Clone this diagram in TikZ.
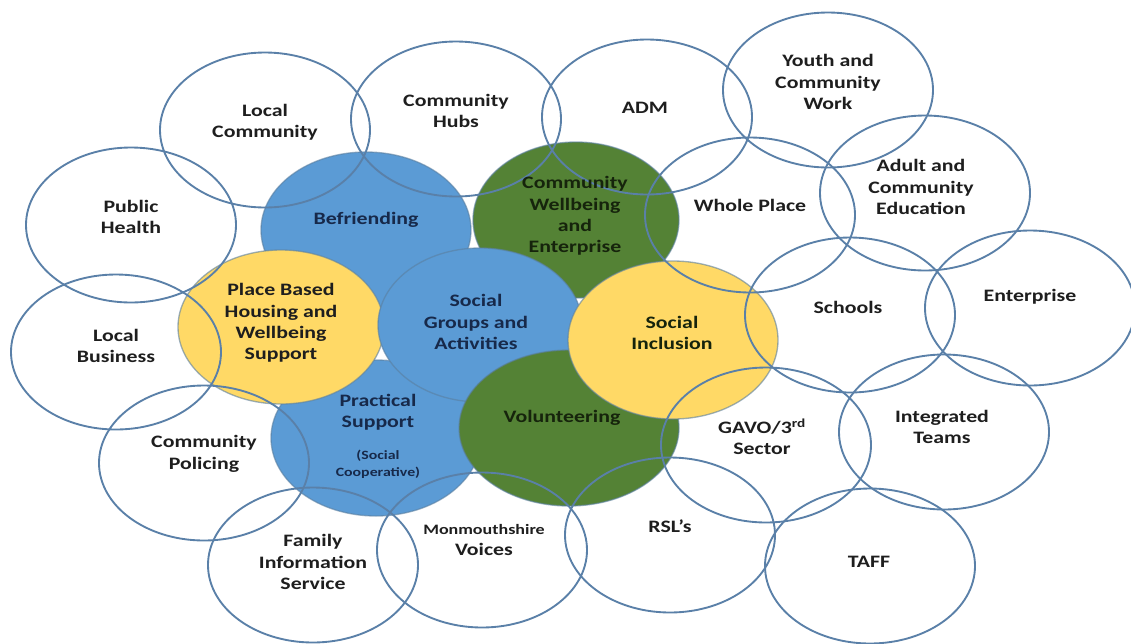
\documentclass[tikz,border=0pt]{standalone}
\usepackage{fontspec}
\setmainfont[FakeStretch=1.25]{Carlito}
\usetikzlibrary{shapes.geometric}

\definecolor{ringcol}{HTML}{5A80A8}
\definecolor{bluefill}{HTML}{5B9BD5}
\definecolor{greenfill}{HTML}{548235}
\definecolor{yellowfill}{HTML}{FFD966}
\definecolor{discedge}{HTML}{5A7FA0}
\definecolor{txtcol}{HTML}{1E1E1E}
\definecolor{navytxt}{HTML}{17294A}
\definecolor{greentxt}{HTML}{16240C}

\tikzset{
  ring/.style={ellipse, draw=ringcol, line width=1.4pt, inner sep=0pt, outer sep=0pt,
    minimum width=157.5pt, minimum height=116.25pt},
  disc/.style={ellipse, draw=discedge, draw opacity=0.6, line width=1pt, inner sep=0pt, outer sep=0pt},
  lbl/.style={align=center, inner sep=0pt, text=txtcol,
    font=\bfseries\fontsize{13.1}{16.1}\selectfont},
}

\begin{document}
\begin{tikzpicture}[x=0.75pt, y=-0.75pt]
    \fill[white] (0,0) rectangle (1131,643);
    \useasboundingbox (0,0) rectangle (1131,643);
    % filled circles
    \node[disc, fill=bluefill, minimum width=157.5pt, minimum height=117pt] (befr) at (366,230) {};
    \node[disc, fill=greenfill, minimum width=154.5pt, minimum height=117pt] (cwe) at (576,220) {};
    \node[disc, fill=bluefill, minimum width=157.5pt, minimum height=117pt] (prac) at (376,438) {};
    \node[disc, fill=yellowfill, minimum width=154.5pt, minimum height=115.5pt] (place) at (281,327) {};
    \node[disc, fill=bluefill, minimum width=153pt, minimum height=115.5pt] (socgrp) at (480,325) {};
    \node[disc, fill=greenfill, minimum width=165pt, minimum height=117pt] (volun) at (569,428) {};
    \node[disc, fill=yellowfill, minimum width=157.5pt, minimum height=118.5pt] (socinc) at (673,340) {};
    % outline ellipses
    \node[ring] (loccom) at (265,130) {};
    \node[ring] (hubs) at (456,119) {};
    \node[ring] (adm) at (647,117) {};
    \node[ring] (youth) at (828,90) {};
    \node[ring] (pubhealth) at (131,225) {};
    \node[ring] (whole) at (750,215) {};
    \node[ring] (adult) at (925,193) {};
    \node[ring] (schools) at (850,315) {};
    \node[ring] (enterp) at (1030,308) {};
    \node[ring] (locbus) at (116,352) {};
    \node[ring] (policing) at (204,463) {};
    \node[ring] (family) at (313,565) {};
    \node[ring] (voices) at (482,550) {};
    \node[ring] (rsl) at (670,535) {};
    \node[ring] (gavo) at (766,445) {};
    \node[ring] (integ) at (944,432) {};
    \node[ring] (taff) at (870,566) {};
    % labels
    \node[lbl] (loccom-t) at (265,122) {Local\\Community};
    \node[lbl] (hubs-t) at (456,111) {Community\\Hubs};
    \node[lbl] (adm-t) at (645,108) {ADM};
    \node[lbl] (youth-t) at (828,82) {Youth and\\Community\\Work};
    \node[lbl] (pubhealth-t) at (131,217) {Public\\Health};
    \node[lbl] (whole-t) at (750,205) {Whole Place};
    \node[lbl] (adult-t) at (921,187) {Adult and\\Community\\Education};
    \node[lbl] (schools-t) at (848,307) {Schools};
    \node[lbl] (enterp-t) at (1030,297) {Enterprise};
    \node[lbl] (locbus-t) at (116,346) {Local\\Business};
    \node[lbl] (policing-t) at (204,454) {Community\\Policing};
    \node[lbl] (family-t) at (313,562) {Family\\Information\\Service};
    \node[lbl, align=center] (voices-t) at (484,540)
        {{\fontsize{10.8}{16.1}\selectfont Monmouthshire}\\Voices};
    \node[lbl] (rsl-t) at (670,526) {RSL’s};
    \node[lbl] (gavo-t) at (762,437) {GAVO/3\textsuperscript{rd}\\Sector};
    \node[lbl] (integ-t) at (942,427) {Integrated\\Teams};
    \node[lbl] (taff-t) at (869,562) {TAFF};
    \node[lbl, text=navytxt] (befr-t) at (366,220) {Befriending};
    \node[lbl, text=greentxt] (cwe-t) at (575,216) {Community\\Wellbeing\\and\\Enterprise};
    \node[lbl] (place-t) at (281,323) {Place Based\\Housing and\\Wellbeing\\Support};
    \node[lbl, text=navytxt] (socgrp-t) at (476,322) {Social\\Groups and\\Activities};
    \node[lbl, text=greentxt] (socinc-t) at (672,333) {Social\\Inclusion};
    \node[lbl, text=navytxt] (prac-t) at (378,412) {Practical\\Support};
    \node[lbl, text=navytxt, font=\bfseries\fontsize{9.5}{12.75}\selectfont] (prac-s) at (378,464) {(Social\\Cooperative)};
    \node[lbl, text=greentxt] (volun-t) at (562,418) {Volunteering};
\end{tikzpicture}
\end{document}
